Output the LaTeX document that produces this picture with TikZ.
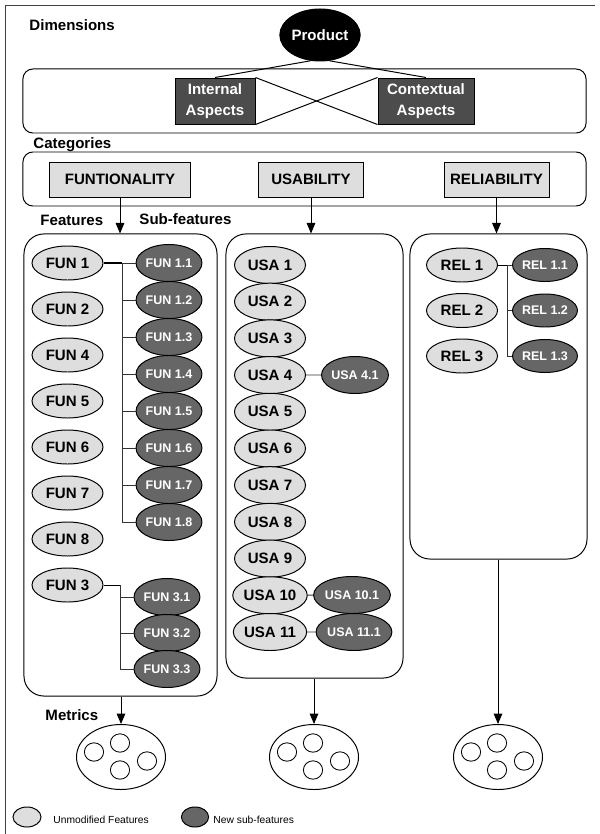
\documentclass[tikz,border=0pt]{standalone}
\usepackage{fontspec}
\setmainfont{Liberation Sans}
\usetikzlibrary{shapes.geometric, arrows, positioning, calc}

\begin{document}
\begin{tikzpicture}[x=0.025cm, y=-0.025cm, line width=0.7pt,
  big/.style={font=\fontsize{10.7}{14.5}\selectfont\bfseries},
  lbl/.style={big, anchor=west, inner sep=0pt},
  grp/.style={draw, rounded corners=0.5cm, inner sep=0pt},
  feat/.style={ellipse, draw, fill=black!13, big, inner sep=0pt, minimum width=1.775cm, minimum height=0.85cm},
  sub/.style={ellipse, draw, fill=black!60, text=white, inner sep=0pt, minimum width=1.5cm, minimum height=0.925cm, font=\fontsize{8.9}{10}\selectfont\bfseries},
  catbox/.style={draw, fill=black!13, big, inner sep=0pt, minimum height=0.875cm},
  aspect/.style={draw, fill=black!70, text=white, big, align=center, inner sep=0pt, minimum height=1.15cm},
  metric/.style={ellipse, draw, inner sep=0pt, minimum width=2.225cm, minimum height=1.625cm},
  conn/.style={black!80, line width=0.6pt}]

\useasboundingbox (0,0) rectangle (599,834);
\draw [black!75] (595,5) -- (5,5) -- (5,834);

% dimensions
\node [lbl] (dimlbl) at (29,25) {Dimensions};
\node [grp, minimum width=14.075cm, minimum height=1.6cm, rounded corners=0.25cm] (dimbox) at (304.5,101) {};
\node [ellipse, draw, fill=black, text=white, big, inner sep=0pt, minimum width=2cm, minimum height=1.3cm] (prod) at (320,35) {Product};
\node [aspect, minimum width=2cm] (int) at (215,101) {Internal\\Aspects};
\node [aspect, minimum width=2.4cm] (ctx) at (426,101) {Contextual\\Aspects};
\draw (prod.250) -- (int.north);
\draw (prod.290) -- (ctx.north);
\draw (int.north east) -- (ctx.south west);
\draw (int.south east) -- (ctx.north west);

% categories
\node [lbl] (catlbl) at (33,145) {Categories};
\node [grp, minimum width=14.075cm, minimum height=1.35cm, rounded corners=0.25cm] (catbox) at (304.5,179) {};
\node [catbox, minimum width=3.5cm] (fun) at (120,179.5) {FUNTIONALITY};
\node [catbox, minimum width=2.6cm] (usa) at (311,179.5) {USABILITY};
\node [catbox, minimum width=2.625cm] (rel) at (496.5,179.5) {RELIABILITY};

% features
\node [lbl] (featlbl) at (40,220) {Features};
\node [lbl] (sublbl) at (139,219) {Sub-features};
\node [grp, minimum width=4.825cm, minimum height=11.55cm] (funbox) at (120.5,465) {};
\node [grp, minimum width=4.425cm, minimum height=11.1cm] (usabox) at (314.5,456) {};
\node [grp, minimum width=4.425cm, minimum height=8.125cm] (relbox) at (498.5,396.5) {};
\draw [-triangle 45] (fun.south) -- (fun.south |- funbox.north);
\draw [-triangle 45] (usa.south) -- (usa.south |- usabox.north);
\draw [-triangle 45] (rel.south) -- (rel.south |- relbox.north);

\foreach \n [count=\i from 0] in {1,2,4,5,6,7,8,3}
  \node [feat] (fun\n) at (67.5,{263+46*\i}) {FUN \n};
\foreach \k in {1,...,8}
  \node [sub] (s1\k) at (169,{263+37*(\k-1)}) {FUN 1.\k};
\foreach \k in {1,2,3}
  \node [sub] (s3\k) at (167,{597+36*(\k-1)}) {FUN 3.\k};

\foreach \n in {1,...,11}
  \node [feat, minimum height=0.925cm] (usa\n) at (270,{265+36.7*(\n-1)}) {USA \n};
\node [sub] (u41) at (355,375) {USA 4.1};
\node [sub, minimum width=1.45cm] (u101) at (352,595) {USA 10.1};
\node [sub, minimum width=1.45cm] (u111) at (354,632) {USA 11.1};

\foreach \n in {1,2,3}
  \node [feat] (rel\n) at (462,{265+45.5*(\n-1)}) {REL \n};
\foreach \k in {1,2,3}
  \node [sub, minimum height=0.825cm] (r1\k) at (545,{265+45.5*(\k-1)}) {REL 1.\k};

% sub-feature links
\coordinate (b1) at (122,263);
\coordinate (b3) at (120,585);
\coordinate (b5) at (507,265);
\draw [line width=1.2pt] (fun1) -- (b1);
\draw [conn] (b1) -- (b1 |- s18);
\foreach \k in {1,...,8} \draw [conn] (b1 |- s1\k) -- (s1\k);
\draw (fun3) -- (b3);
\draw [conn] (b3) -- (b3 |- s33);
\foreach \k in {1,2,3} \draw [conn] (b3 |- s3\k) -- (s3\k);
\draw (rel1) -- (b5);
\draw [conn] (b5) -- (b5 |- r13);
\foreach \k in {1,2,3} \draw [conn] (b5 |- r1\k) -- (r1\k);
\draw [conn] (usa4) -- (u41);
\draw [conn] (usa10) -- (u101);
\draw [conn] (usa11) -- (u111);

% metrics
\node [lbl] (metlbl) at (45,715) {Metrics};
\node [metric] (fm) at (121,757) {};
\node [metric] (um) at (314,757) {};
\node [metric] (rm) at (498,757) {};
\draw [-triangle 45] (funbox.south -| fm) -- (fm.north);
\draw [-triangle 45] (usabox.south -| um) -- (um.north);
\draw [-triangle 45] (relbox.south -| rm) -- (rm.north);
\foreach \m in {fm,um,rm}
  \foreach \dx/\dy in {-27/-5,-1/-14,-1/13,26/4}
    \draw [line width=0.6pt] ($(\m)+(\dx,\dy)$) circle [x radius=0.24cm, y radius=0.23cm];

% legend
\node [ellipse, draw, fill=black!13, inner sep=0pt, minimum width=0.7cm, minimum height=0.5cm] (leg1) at (27,817) {};
\node [anchor=west, inner sep=0pt, font=\fontsize{7.3}{9}\selectfont] (leg1t) at (53,820) {Unmodified Features};
\node [ellipse, draw, fill=black!60, inner sep=0pt, minimum width=0.68cm, minimum height=0.5cm] (leg2) at (195,817) {};
\node [anchor=west, inner sep=0pt, font=\fontsize{7.3}{9}\selectfont] (leg2t) at (213,820) {New sub-features};
\end{tikzpicture}
\end{document}
